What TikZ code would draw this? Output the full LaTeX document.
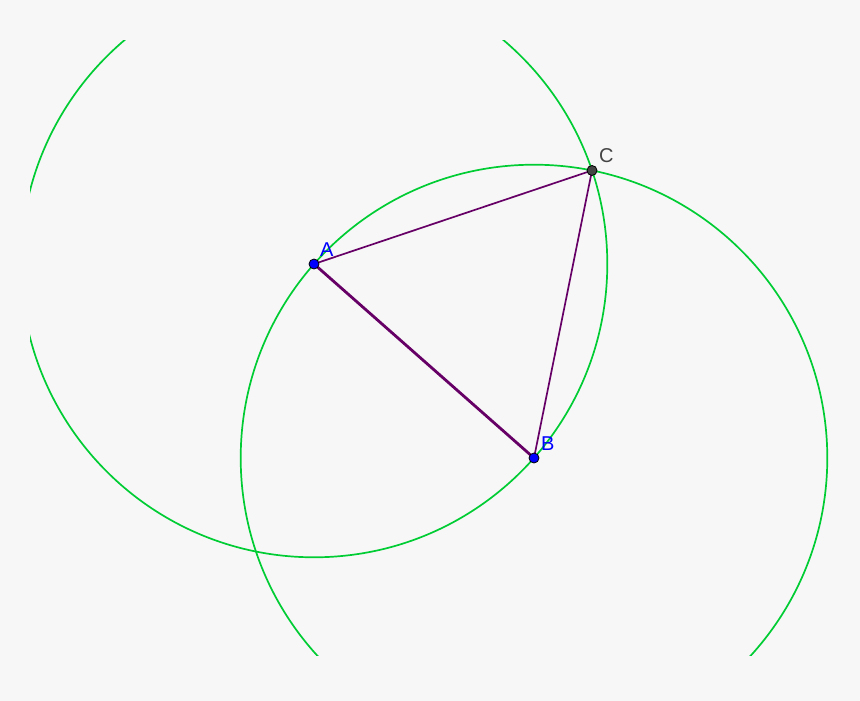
\documentclass[tikz,border=0pt]{standalone}
\usepackage{fontspec}
\setmainfont{Liberation Sans}
\usetikzlibrary{calc}
\definecolor{bgcol}{HTML}{F7F7F7}
\definecolor{arcgreen}{HTML}{00CC33}
\definecolor{segpurple}{HTML}{660066}
\definecolor{ptblue}{HTML}{0000FF}
\definecolor{ptgray}{HTML}{444444}

\begin{document}
\begin{tikzpicture}[x=1pt,y=-1pt,
  arc/.style={draw=arcgreen, line width=1.7pt},
  seg/.style={draw=segpurple, line width=1.7pt},
  pt/.style={draw=black, circle, inner sep=0pt, minimum size=10pt, line width=0.8pt},
  lbl/.style={anchor=base west, inner sep=0pt, font=\fontsize{20}{20}\selectfont}]
\fill[bgcol] (0,0) rectangle (860,701);
\useasboundingbox (0,0) rectangle (860,701);
\coordinate (A) at (314,264);
\coordinate (B) at (534,458);
\coordinate (C) at ($(A)!1!60:(B)$);
% construction circles
\begin{scope}
\clip (30,41) rectangle (860,655);
\draw[arc] let \p1=($(B)-(A)$), \n1={veclen(\x1,\y1)} in (A) circle[radius=\n1];
\draw[arc] let \p1=($(B)-(A)$), \n1={veclen(\x1,\y1)} in (B) circle[radius=\n1];
\end{scope}
% triangle
\draw[seg] (A) -- (C) -- (B);
\draw[seg, line width=2.8pt] (A) -- (B);
% points
\node[pt, fill=ptblue] (a) at (A) {};
\node[pt, fill=ptblue] (b) at (B) {};
\node[pt, fill=ptgray] (c) at (C) {};
\node[lbl, text=ptblue] (la) at ($(A)+(6,-8)$) {A};
\node[lbl, text=ptblue] (lb) at ($(B)+(7,-8)$) {B};
\node[lbl, text=ptgray] (lc) at ($(C)+(7,-8)$) {C};
\end{tikzpicture}
\end{document}
